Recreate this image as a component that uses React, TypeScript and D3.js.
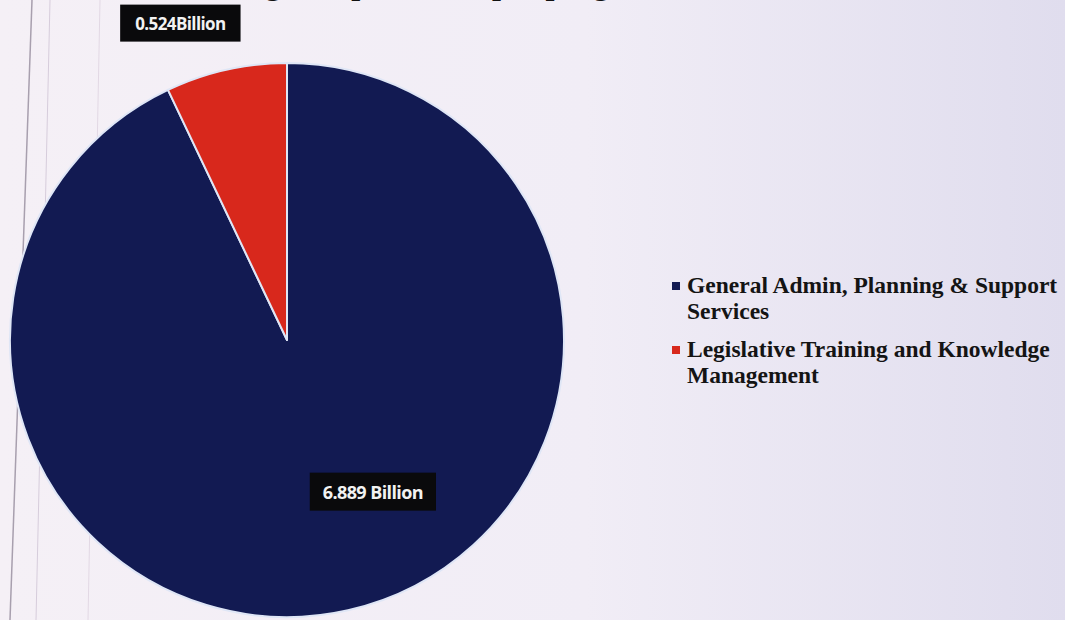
import { useEffect, useRef } from "react";
import * as d3 from "d3";

// programme names + values (billions)
const programmes = [
  ["General Admin, Planning & Support", "Services"],
  ["Legislative Training and Knowledge", "Management"],
];
const values = [6.889, 0.524];
const valueLabels = ["6.889 Billion", "0.524Billion"];
const colors = ["#121a52", "#d8281c"];
const title = "Budget Expenditure per programme";

const App = () => {
  const ref = useRef(null);

  useEffect(() => {
    document.body.style.margin = "0"; // page default margin would shift everything
    d3.select(ref.current).select("svg").remove();

    const width = 1065;
    const height = 620;
    const cx = 287;
    const cy = 340;
    const radius = 277;

    const svg = d3
      .select(ref.current)
      .append("svg")
      .attr("width", width)
      .attr("height", height)
      .style("display", "block");

    const defs = svg.append("defs");
    const bg = defs
      .append("linearGradient")
      .attr("id", "bg-grad")
      .attr("x1", "0%")
      .attr("y1", "0%")
      .attr("x2", "100%")
      .attr("y2", "0%");
    bg.append("stop").attr("offset", "0%").attr("stop-color", "#f5f0f6");
    bg.append("stop").attr("offset", "55%").attr("stop-color", "#f1edf6");
    bg.append("stop").attr("offset", "100%").attr("stop-color", "#e0ddee");

    svg
      .append("rect")
      .attr("width", width)
      .attr("height", height)
      .attr("fill", "url(#bg-grad)");

    // faint slanted paper lines on the left
    const paperLines = [
      [32, 10, "#a89fae", 1.5],
      [50, 36, "#d6ccdb", 1],
      [100, 88, "#e2d8e4", 1],
    ];
    paperLines.forEach(([x1, x2, c, w]) => {
      svg
        .append("line")
        .attr("x1", x1)
        .attr("x2", x2)
        .attr("y1", 0)
        .attr("y2", height)
        .attr("stroke", c as string)
        .attr("stroke-width", w as number);
    });

    // title, mostly cut off at the top (as in the photo)
    svg
      .append("text")
      .attr("x", 208)
      .attr("y", -6)
      .attr("font-family", "'Liberation Serif', serif")
      .attr("font-weight", "bold")
      .attr("font-size", "32px")
      .attr("fill", "#111")
      .text(title);

    const pie = d3
      .pie<number>()
      .sort(null)
      .value((d) => d);
    const arcs = pie(values);
    const arc = d3
      .arc<d3.PieArcDatum<number>>()
      .innerRadius(0)
      .outerRadius(radius);

    const g = svg.append("g").attr("transform", `translate(${cx}, ${cy})`);

    g.selectAll("path")
      .data(arcs)
      .enter()
      .append("path")
      .attr("d", arc)
      .attr("fill", (_, i) => colors[i])
      .attr("stroke", "#dfe6f6")
      .attr("stroke-width", 2)
      .attr("stroke-linejoin", "round");

    // data labels (dark boxes)
    const labelPos = [
      [0.31, 0.55, 18, 13],
      [-0.385, -1.142, 17, 15],
    ];
    arcs.forEach((_, i) => {
      const [fx, fy, fs, padX] = labelPos[i];
      const lg = g
        .append("g")
        .attr("transform", `translate(${fx * radius}, ${fy * radius})`);
      const rect = lg.append("rect").attr("fill", "#0a0a0c");
      const t = lg
        .append("text")
        .attr("text-anchor", "middle")
        .attr("dy", "0.35em")
        .attr("font-family", "'Open Sans', sans-serif")
        .attr("font-weight", "bold")
        .attr("font-size", `${fs}px`)
        .attr("letter-spacing", "-0.6px")
        .attr("fill", "#f2f2f2")
        .text(valueLabels[i]);
      const bb = (t.node() as SVGTextElement).getBBox();
      const padY = 7;
      rect
        .attr("x", bb.x - padX)
        .attr("y", bb.y - padY)
        .attr("width", bb.width + padX * 2)
        .attr("height", bb.height + padY * 2);
    });

    // legend
    const legend = svg.append("g").attr("transform", "translate(672, 293)");
    const rowY = [0, 64];
    programmes.forEach((lines, i) => {
      const row = legend.append("g").attr("transform", `translate(0, ${rowY[i]})`);
      row
        .append("rect")
        .attr("x", 0)
        .attr("y", -11)
        .attr("width", 8)
        .attr("height", 8)
        .attr("fill", colors[i]);
      const t = row
        .append("text")
        .attr("x", 15)
        .attr("y", 0)
        .attr("font-family", "'Liberation Serif', serif")
        .attr("font-weight", "bold")
        .attr("font-size", "23.5px")
        .attr("fill", "#141414");
      lines.forEach((line, j) => {
        t.append("tspan")
          .attr("x", 15)
          .attr("dy", j === 0 ? 0 : 26)
          .text(line);
      });
    });

    return () => {
      d3.select(ref.current).select("svg").remove();
    };
  }, []);

  return <div ref={ref} style={{ width: 1065, height: 620 }}></div>;
};

export default App;
